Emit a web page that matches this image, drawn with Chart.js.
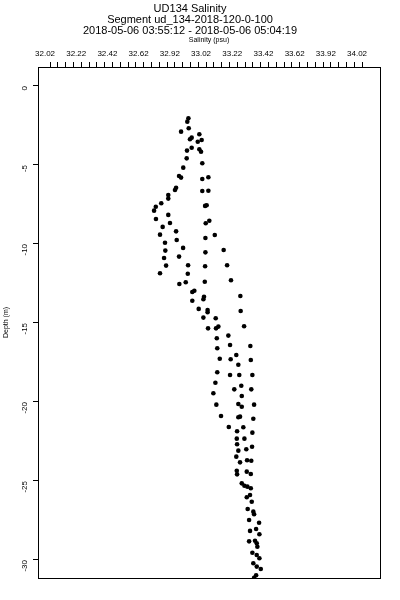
<!DOCTYPE html>
<html lang="en">
<head>
<meta charset="UTF-8">
<title>UD134 Salinity</title>
<script src="https://cdn.jsdelivr.net/npm/chart.js"></script>
<style>
  html, body { margin: 0; padding: 0; background: #fff; }
</style>
</head>
<body>
<canvas id="salChart" width="400" height="600"></canvas>
<script>
// title block
const titleLines = [
  "UD134 Salinity",
  "Segment ud_134-2018-120-0-100",
  "2018-05-06 03:55:12 - 2018-05-06 05:04:19"
];

// top axis labels (as printed) and the value of the first label
const xTickLabels = ["32.02", "32.22", "32.42", "32.62", "32.92", "33.02", "33.22", "33.42", "33.62", "33.92", "34.02"];
const xFirstTick = 32.02;
const xMinorStep = 0.05;
const depthTicks = [0, -5, -10, -15, -20, -25, -30];

// salinity (psu) and depth (m)
const salinity = [
  32.907, 32.900, 32.860, 32.909, 32.977, 32.917, 32.928, 32.967, 32.992, 32.928,
  32.898, 32.977, 32.988, 32.896, 32.996, 32.874, 32.847, 32.860, 32.996, 33.035,
  32.828, 32.821, 32.996, 33.035, 32.778, 32.778, 32.733, 32.698, 32.687, 33.014,
  33.024, 32.699, 32.778, 33.041, 33.018, 32.742, 32.789, 32.725, 32.828, 33.076,
  33.016, 32.757, 32.832, 32.759, 32.873, 33.016, 33.133, 32.751, 32.847, 32.764,
  32.905, 33.014, 33.155, 32.725, 32.903, 32.849, 32.890, 33.012, 33.180, 32.932,
  32.945, 33.007, 33.240, 33.003, 32.932, 32.973, 33.030, 33.030, 33.242, 33.003,
  33.082, 33.033, 33.084, 33.099, 33.264, 33.163, 33.089, 33.174, 33.304, 33.092,
  33.214, 33.108, 33.178, 33.227, 33.307, 33.092, 33.174, 33.233, 33.317, 33.080,
  33.201, 33.246, 33.310, 33.067, 33.249, 33.086, 33.227, 33.249, 33.328, 33.116,
  33.227, 33.238, 33.323, 33.166, 33.219, 33.259, 33.317, 33.217, 33.266, 33.219,
  33.315, 33.227, 33.278, 33.214, 33.238, 33.283, 33.310, 33.217, 33.219, 33.281,
  33.307, 33.249, 33.266, 33.285, 33.307, 33.302, 33.281, 33.313, 33.287, 33.323,
  33.328, 33.296, 33.360, 33.341, 33.302, 33.362, 33.296, 33.334, 33.345, 33.349,
  33.317, 33.345, 33.362, 33.323, 33.345, 33.371, 33.341, 33.328
];
const depth = [
  -2.04, -2.26, -2.89, -2.68, -3.06, -3.37, -3.27, -3.53, -3.42, -3.91,
  -4.09, -4.01, -4.16, -4.58, -4.89, -5.17, -5.70, -5.80, -5.89, -5.78,
  -6.44, -6.58, -6.65, -6.63, -6.90, -7.13, -7.42, -7.64, -7.89, -7.59,
  -7.55, -8.42, -8.16, -8.53, -8.69, -8.92, -8.67, -9.41, -9.20, -9.43,
  -9.62, -9.92, -9.75, -10.42, -10.25, -10.53, -10.38, -10.89, -10.80, -11.37,
  -11.35, -11.41, -11.35, -11.85, -11.88, -12.53, -12.42, -12.39, -12.30, -13.04,
  -12.96, -13.34, -13.29, -13.50, -13.59, -14.11, -14.18, -14.32, -14.24, -14.66,
  -14.70, -15.34, -15.34, -15.23, -15.21, -15.80, -15.97, -16.39, -16.46, -16.60,
  -17.03, -17.26, -17.30, -17.64, -17.34, -18.12, -18.29, -18.29, -18.29, -18.78,
  -19.20, -18.97, -19.20, -19.45, -19.62, -20.17, -20.13, -20.30, -20.17, -20.89,
  -20.97, -20.93, -21.06, -21.58, -21.85, -21.60, -21.94, -22.32, -22.32, -22.68,
  -22.83, -23.08, -22.99, -23.46, -23.82, -23.69, -23.72, -24.35, -24.58, -24.41,
  -24.56, -25.15, -25.30, -25.36, -25.46, -25.89, -26.03, -26.31, -26.77, -26.94,
  -27.11, -27.47, -27.64, -28.04, -28.16, -28.37, -28.82, -28.78, -28.94, -29.16,
  -29.54, -29.68, -29.89, -30.21, -30.42, -30.57, -30.97, -31.12
];

const points = salinity.map((s, i) => ({ x: s, y: depth[i] }));

// plain frame round the plot area
const frame = {
  id: "frame",
  afterDraw(chart) {
    const a = chart.chartArea;
    const c = chart.ctx;
    c.save();
    c.strokeStyle = "#000";
    c.lineWidth = 1;
    c.strokeRect(Math.round(a.left) + 0.5, Math.round(a.top) + 0.5,
                 Math.round(a.right - a.left), Math.round(a.bottom - a.top));
    c.restore();
  }
};

const font = "'Liberation Sans', Arial, Helvetica, sans-serif";
const narrow = "'Liberation Sans Narrow', 'Liberation Sans', Arial, sans-serif";

new Chart(document.getElementById("salChart"), {
  type: "scatter",
  data: {
    datasets: [{
      data: points,
      pointStyle: "circle",
      pointRadius: 2.3,
      pointBorderWidth: 0,
      backgroundColor: "#000",
      borderColor: "#000"
    }]
  },
  options: {
    responsive: false,
    animation: false,
    devicePixelRatio: 1,
    layout: { padding: { left: 0, right: 20, top: 0, bottom: 22 } },
    plugins: {
      legend: { display: false },
      tooltip: { enabled: false },
      title: {
        display: true,
        text: titleLines,
        color: "#000",
        font: { family: font, size: 11, weight: "normal", lineHeight: 1.0 },
        padding: { top: 3, bottom: 0 }
      }
    },
    scales: {
      x: {
        type: "linear",
        position: "top",
        min: 31.943,
        max: 34.135,
        afterBuildTicks: axis => {
          const t = [];
          for (let i = 0; i <= (xTickLabels.length - 1) * 4; i++) {
            t.push({ value: xFirstTick + i * xMinorStep });
          }
          axis.ticks = t;
        },
        afterFit: axis => { axis.height = 31; },
        border: { display: false },
        grid: { drawOnChartArea: false, drawTicks: true, tickLength: 5, color: "#000" },
        ticks: {
          autoSkip: false,
          maxRotation: 0,
          padding: 3,
          labelOffset: -5,
          color: "#000",
          font: { family: narrow, size: 8 },
          callback: (v, i) => (i % 4 === 0 ? xTickLabels[i / 4] : "")
        },
        title: {
          display: true,
          text: "Salinity (psu)",
          color: "#000",
          font: { family: narrow, size: 7 },
          padding: { top: 0, bottom: 0 }
        }
      },
      y: {
        type: "linear",
        min: -31.14,
        max: 1.2,
        afterBuildTicks: axis => { axis.ticks = depthTicks.map(v => ({ value: v })); },
        afterFit: axis => { axis.width = 38; },
        border: { display: false },
        grid: { drawOnChartArea: false, drawTicks: true, tickLength: 5, color: "#000" },
        ticks: {
          minRotation: 90,
          maxRotation: 90,
          padding: 8,
          color: "#000",
          font: { family: narrow, size: 8 },
          callback: v => String(v)
        },
        title: {
          display: true,
          text: "Depth (m)",
          color: "#000",
          font: { family: narrow, size: 7 },
          padding: { top: 2, bottom: 0 }
        }
      }
    }
  },
  plugins: [frame]
});
</script>
</body>
</html>
